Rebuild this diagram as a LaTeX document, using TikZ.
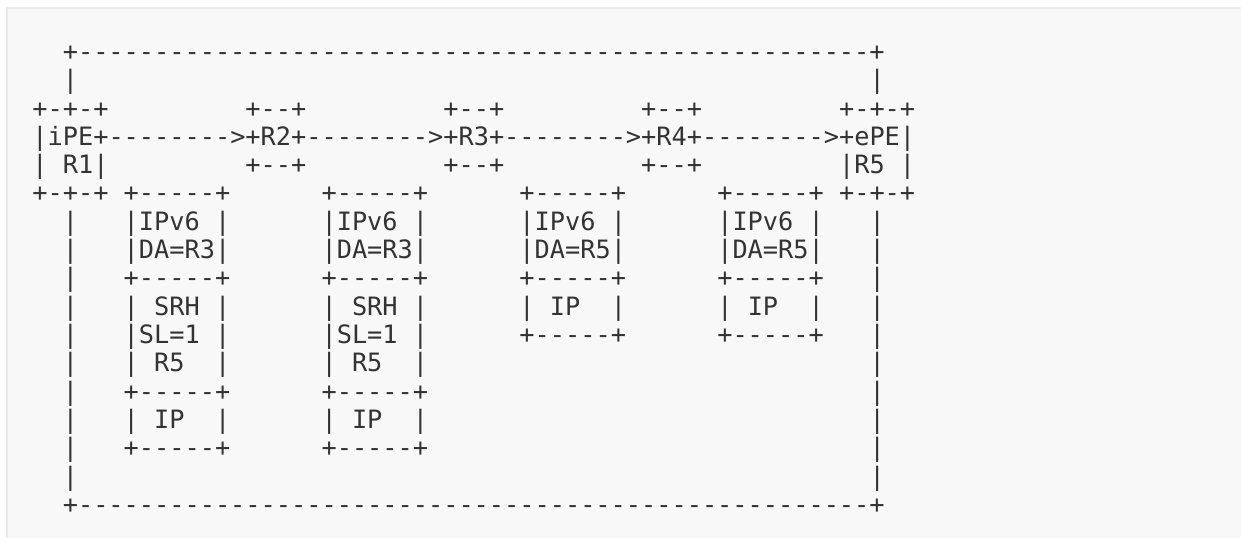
\documentclass[tikz,border=0pt]{standalone}
\usepackage{fontspec}
\newfontfamily\asciimono[Ligatures=TeXOff]{DejaVu Sans Mono}
\definecolor{panel}{HTML}{F8F8F8}
\definecolor{panelframe}{HTML}{EBEBEB}
\definecolor{ink}{HTML}{333333}
\newcommand\seg[4]{\node[txt] (#1) at ({32.4+15.22*#2},{60.5+28.3*(#3-1)}) {#4};}
\begin{document}
\begin{tikzpicture}[x=0.75pt,y=-0.75pt,
  txt/.style={inner sep=0pt,outer sep=0pt,anchor=base west,
    font=\asciimono\fontsize{18.96pt}{22pt}\selectfont,text=ink}]
\useasboundingbox (0,0) rectangle (1241,538);
\fill[white] (0,0) rectangle (1241,538);
\fill[panel] (7,8) rectangle (1241,538);
\draw[panelframe,line width=1.2pt] (7,538) -- (7,8) -- (1241,8);
% row 1 and 2: outer loop
\seg{top}{2}{1}{+----------------------------------------------------+}
\seg{lv2}{2}{2}{|}
\seg{rv2}{55}{2}{|}
% row 3
\seg{ipetop}{0}{3}{+-+-+}
\seg{rtwotop}{14}{3}{+--+}
\seg{rthreetop}{27}{3}{+--+}
\seg{rfourtop}{40}{3}{+--+}
\seg{epetop}{53}{3}{+-+-+}
% row 4
\seg{ipe}{0}{4}{|iPE+}
\seg{aone}{5}{4}{-------->}
\seg{rtwo}{14}{4}{+R2+}
\seg{atwo}{18}{4}{-------->}
\seg{rthree}{27}{4}{+R3+}
\seg{athree}{31}{4}{-------->}
\seg{rfour}{40}{4}{+R4+}
\seg{afour}{44}{4}{-------->}
\seg{epe}{53}{4}{+ePE|}
% row 5
\seg{ipel}{0}{5}{|}
\seg{rone}{2}{5}{R1|}
\seg{rtwobot}{14}{5}{+--+}
\seg{rthreebot}{27}{5}{+--+}
\seg{rfourbot}{40}{5}{+--+}
\seg{rfive}{53}{5}{|R5}
\seg{eper}{57}{5}{|}
% row 6
\seg{ipebot}{0}{6}{+-+-+}
\seg{paone}{6}{6}{+-----+}
\seg{pbone}{19}{6}{+-----+}
\seg{pcone}{32}{6}{+-----+}
\seg{pdone}{45}{6}{+-----+}
\seg{epebot}{53}{6}{+-+-+}
% row 7
\seg{lv7}{2}{7}{|}
\seg{patwo}{6}{7}{|IPv6}\seg{patwor}{12}{7}{|}
\seg{pbtwo}{19}{7}{|IPv6}\seg{pbtwor}{25}{7}{|}
\seg{pctwo}{32}{7}{|IPv6}\seg{pctwor}{38}{7}{|}
\seg{pdtwo}{45}{7}{|IPv6}\seg{pdtwor}{51}{7}{|}
\seg{rv7}{55}{7}{|}
% row 8
\seg{lv8}{2}{8}{|}
\seg{pathree}{6}{8}{|DA=R3|}
\seg{pbthree}{19}{8}{|DA=R3|}
\seg{pcthree}{32}{8}{|DA=R5|}
\seg{pdthree}{45}{8}{|DA=R5|}
\seg{rv8}{55}{8}{|}
% row 9
\seg{lv9}{2}{9}{|}
\seg{pafour}{6}{9}{+-----+}
\seg{pbfour}{19}{9}{+-----+}
\seg{pcfour}{32}{9}{+-----+}
\seg{pdfour}{45}{9}{+-----+}
\seg{rv9}{55}{9}{|}
% row 10
\seg{lv10}{2}{10}{|}
\seg{pafivel}{6}{10}{|}\seg{pafive}{8}{10}{SRH}\seg{pafiver}{12}{10}{|}
\seg{pbfivel}{19}{10}{|}\seg{pbfive}{21}{10}{SRH}\seg{pbfiver}{25}{10}{|}
\seg{pcfivel}{32}{10}{|}\seg{pcfive}{34}{10}{IP}\seg{pcfiver}{38}{10}{|}
\seg{pdfivel}{45}{10}{|}\seg{pdfive}{47}{10}{IP}\seg{pdfiver}{51}{10}{|}
\seg{rv10}{55}{10}{|}
% row 11
\seg{lv11}{2}{11}{|}
\seg{pasix}{6}{11}{|SL=1}\seg{pasixr}{12}{11}{|}
\seg{pbsix}{19}{11}{|SL=1}\seg{pbsixr}{25}{11}{|}
\seg{pcsix}{32}{11}{+-----+}
\seg{pdsix}{45}{11}{+-----+}
\seg{rv11}{55}{11}{|}
% row 12
\seg{lv12}{2}{12}{|}
\seg{pasevenl}{6}{12}{|}\seg{paseven}{8}{12}{R5}\seg{pasevenr}{12}{12}{|}
\seg{pbsevenl}{19}{12}{|}\seg{pbseven}{21}{12}{R5}\seg{pbsevenr}{25}{12}{|}
\seg{rv12}{55}{12}{|}
% row 13
\seg{lv13}{2}{13}{|}
\seg{paeight}{6}{13}{+-----+}
\seg{pbeight}{19}{13}{+-----+}
\seg{rv13}{55}{13}{|}
% row 14
\seg{lv14}{2}{14}{|}
\seg{paninel}{6}{14}{|}\seg{panine}{8}{14}{IP}\seg{paniner}{12}{14}{|}
\seg{pbninel}{19}{14}{|}\seg{pbnine}{21}{14}{IP}\seg{pbniner}{25}{14}{|}
\seg{rv14}{55}{14}{|}
% row 15
\seg{lv15}{2}{15}{|}
\seg{paten}{6}{15}{+-----+}
\seg{pbten}{19}{15}{+-----+}
\seg{rv15}{55}{15}{|}
% row 16 and 17
\seg{lv16}{2}{16}{|}
\seg{rv16}{55}{16}{|}
\seg{bottom}{2}{17}{+----------------------------------------------------+}
\end{tikzpicture}
\end{document}
